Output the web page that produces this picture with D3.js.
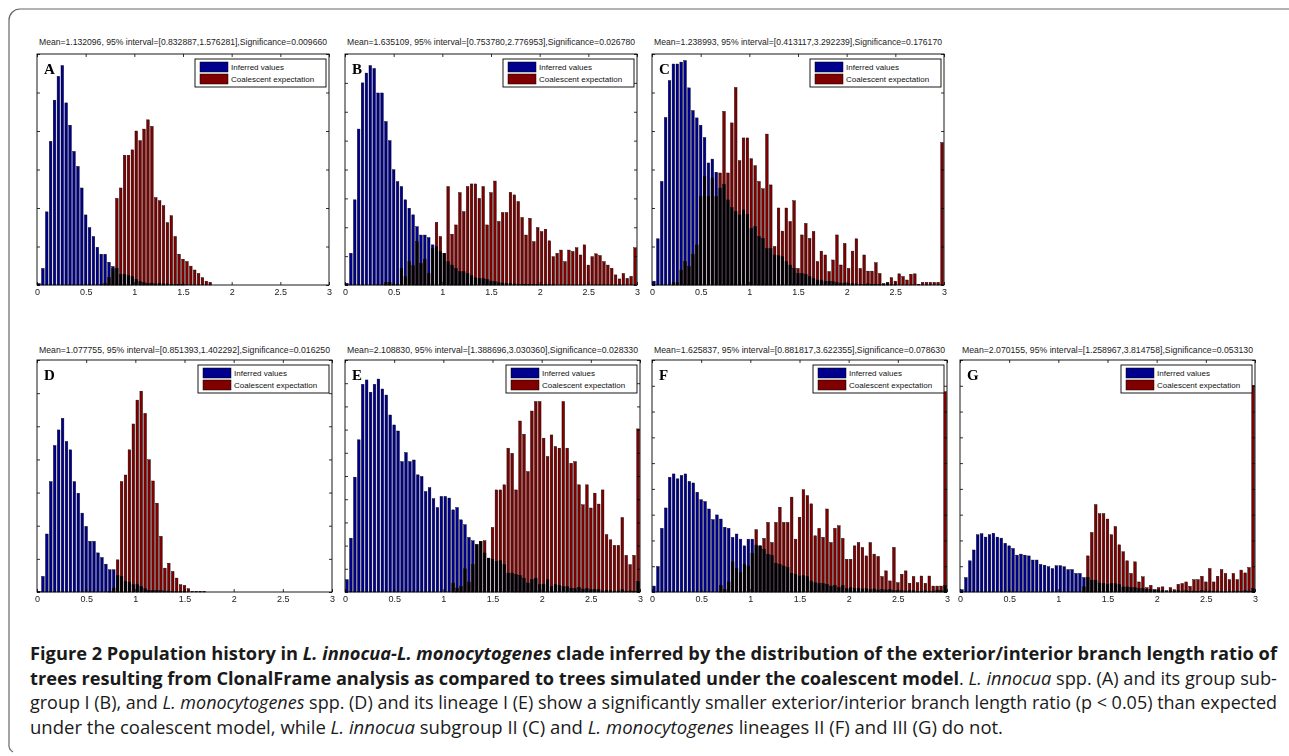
<!DOCTYPE html>
<html>
<head>
<meta charset="utf-8">
<script src="https://cdnjs.cloudflare.com/ajax/libs/d3/7.8.5/d3.min.js"></script>
<style>
  body { margin: 0; background: #fff; }
  svg { display: block; }
</style>
</head>
<body>
<svg id="chart" width="1289" height="756"></svg>
<script>
// Histogram bins: 75 bins of width 0.04 over [0, 3]
const binCount = 75;
const binWidth = 0.04;
const xTicks = [0, 0.5, 1, 1.5, 2, 2.5, 3];

const panelLetters = ['A', 'B', 'C', 'D', 'E', 'F', 'G'];
const panelTitles = [
    'Mean=1.132096, 95% interval=[0.832887,1.576281],Significance=0.009660',
    'Mean=1.635109, 95% interval=[0.753780,2.776953],Significance=0.026780',
    'Mean=1.238993, 95% interval=[0.413117,3.292239],Significance=0.176170',
    'Mean=1.077755, 95% interval=[0.851393,1.402292],Significance=0.016250',
    'Mean=2.108830, 95% interval=[1.388696,3.030360],Significance=0.028330',
    'Mean=1.625837, 95% interval=[0.881817,3.622355],Significance=0.078630',
    'Mean=2.070155, 95% interval=[1.258967,3.814758],Significance=0.053130'
];
// number of y tick intervals in each panel (counts are in tick units)
const yTickIntervals = [6, 8, 6, 7, 10, 9, 9];
const legendLabels = ['Inferred values', 'Coalescent expectation'];

const inferredA = [
    0.04,0.43,1.90,3.73,4.80,5.42,5.70,4.73,4.15,3.47,
    3.08,2.52,1.82,1.49,1.26,0.98,0.80,0.80,0.59,0.48,
    0.43,0.28,0.28,0.24,0.22,0.15,0.09,0.06,0.04,0.05,
    0.03,0.04,0.03,0.03,0.02,0.02,0.02,0.01,0,0,
    0,0,0,0,0,0,0,0,0,0,
    0,0,0,0,0,0,0,0,0,0,
    0,0,0,0,0,0,0,0,0,0,
    0,0,0,0,0];
const coalescentA = [
    0,0,0,0,0,0,0,0,0,0,
    0,0,0,0,0,0,0.02,0.05,0.20,0.42,
    2.25,2.52,3.37,3.37,3.51,4.00,3.75,4.05,4.29,4.12,
    2.27,2.19,2.06,1.62,1.80,1.26,0.80,0.67,0.61,0.49,
    0.39,0.30,0.19,0.10,0.07,0,0,0,0,0,
    0,0,0,0,0,0,0,0,0,0,
    0,0,0,0,0,0,0,0,0,0,
    0,0,0,0,0];

const inferredB = [
    0.06,1.10,2.95,5.40,7.00,7.34,7.60,7.50,6.65,6.65,
    5.66,5.00,3.99,3.58,3.41,2.95,2.66,2.43,2.02,1.73,
    1.73,1.64,1.39,1.33,1.16,1.10,0.81,0.69,0.58,0.46,
    0.46,0.40,0.32,0.25,0.23,0.23,0.20,0.14,0.12,0.08,
    0.07,0.06,0.05,0.04,0.03,0.03,0.02,0.02,0.02,0.02,
    0.01,0.01,0.01,0.01,0,0,0,0,0,0,
    0,0,0,0,0,0,0,0,0,0,
    0,0,0,0,0];
const coalescentB = [
    0,0,0,0,0,0,0,0,0,0,
    0.09,0.09,0.02,0.03,0.58,0.29,0.81,0.67,1.50,0.75,
    0.90,0.40,1.27,2.17,1.68,1.10,3.41,1.76,2.08,3.20,
    2.54,3.41,3.50,3.50,3.00,3.41,2.08,3.20,3.60,2.20,
    2.51,2.51,3.21,3.12,2.89,2.34,1.73,2.31,1.50,1.99,
    1.85,1.93,1.53,0.98,1.10,1.21,0.81,1.21,1.16,1.29,
    1.04,1.39,0.69,0.98,1.08,1.02,0.81,0.69,0.58,0.35,
    0.21,0.40,0.23,0.30,1.29];

const inferredC = [
    0.10,1.20,2.69,4.35,5.31,5.74,5.74,5.79,5.83,5.12,
    4.53,4.34,4.15,3.83,3.17,3.27,2.93,2.52,2.62,2.21,
    2.01,1.91,1.82,1.95,1.84,1.47,1.52,1.26,1.21,0.95,
    0.95,0.78,0.76,0.74,0.61,0.52,0.43,0.30,0.30,0.28,
    0.22,0.17,0.13,0.13,0.10,0.10,0.09,0.06,0.05,0.05,
    0.04,0.04,0.03,0.02,0.02,0.03,0.02,0.02,0.02,0.02,
    0.05,0.01,0.01,0,0,0,0,0,0,0,
    0,0,0,0,0];
const coalescentC = [
    0,0,0,0,0,0.07,0.07,0.39,0.61,0.48,
    0.80,1.04,2.30,2.82,2.30,2.78,2.30,2.91,4.51,2.91,
    4.21,5.13,3.23,3.82,3.82,3.28,3.10,2.69,2.50,3.92,
    2.60,1.00,2.00,1.40,2.00,1.65,2.19,0.43,1.30,1.60,
    1.21,1.39,0.61,0.88,0.78,0.35,0.65,1.30,0.52,1.08,
    0.43,0.88,1.20,0.43,0.78,0.36,0.36,0.58,0.30,0.04,
    0.07,0.19,0.10,0.29,0.22,0.13,0.28,0.29,0.02,0.07,
    0.07,0.07,0.07,0.07,3.70];

const inferredD = [
    0.02,0.47,1.75,3.33,4.42,4.89,5.24,4.54,4.29,3.33,
    2.98,2.38,1.98,1.53,1.53,1.18,1.04,0.84,0.67,0.67,
    0.50,0.47,0.32,0.30,0.22,0.24,0.17,0.10,0.04,0.05,
    0.05,0.04,0.03,0.03,0.02,0.02,0.01,0.01,0,0,
    0,0,0,0,0,0,0,0,0,0,
    0,0,0,0,0,0,0,0,0,0,
    0,0,0,0,0,0,0,0,0,0,
    0,0,0,0,0];
const coalescentD = [
    0,0,0,0,0,0,0,0,0,0,
    0,0,0,0,0,0,0,0,0.02,0.12,
    0.97,3.33,3.53,4.29,5.07,5.79,6.06,5.39,3.99,3.35,
    2.68,1.68,0.72,0.87,0.62,0.42,0.22,0.20,0.10,0.02,
    0.02,0.02,0.02,0,0,0,0,0,0,0,
    0,0,0,0,0,0,0,0,0,0,
    0,0,0,0,0,0,0,0,0,0,
    0,0,0,0,0];

const inferredE = [
    0.53,2.32,4.95,6.56,8.95,9.14,8.61,8.95,9.18,8.75,
    8.49,7.63,7.20,6.94,5.62,6.01,5.62,5.69,5.05,4.98,
    4.33,4.50,4.02,3.64,4.12,4.12,4.05,3.54,3.64,3.11,
    2.90,2.35,2.21,2.04,2.18,1.68,1.46,1.42,1.32,1.35,
    1.18,0.82,0.82,0.75,0.72,0.60,0.39,0.53,0.60,0.32,
    0.34,0.53,0.24,0.34,0.29,0.24,0.24,0.17,0.15,0.20,
    0.13,0.15,0.10,0.12,0.10,0.05,0.08,0.06,0.04,0.05,
    0.10,0.04,0.05,0.04,0.46];
const coalescentE = [
    0,0,0,0,0,0,0,0,0,0,
    0,0,0,0,0,0,0,0,0,0,
    0,0,0,0,0,0,0,0.39,0.17,0.24,
    1.00,0.43,1.18,2.04,2.18,2.21,1.46,2.78,4.40,4.40,
    4.62,6.20,5.98,4.40,7.37,6.80,5.19,7.80,8.21,8.21,
    6.63,5.84,6.77,6.27,6.20,8.21,6.20,5.55,5.62,4.62,
    3.76,4.62,3.62,4.26,3.79,4.40,2.47,2.25,2.01,2.01,
    3.21,1.58,1.18,1.58,7.03];

const inferredF = [
    0.23,0.99,2.47,3.26,4.45,4.58,4.39,4.52,4.58,4.29,
    4.23,3.87,3.58,3.51,3.22,2.81,2.99,2.83,2.51,2.47,
    2.12,2.25,2.05,1.79,2.05,2.05,1.82,1.79,1.66,1.47,
    1.43,1.12,1.08,1.01,0.95,0.73,0.69,0.62,0.65,0.60,
    0.43,0.36,0.34,0.34,0.30,0.23,0.26,0.17,0.26,0.13,
    0.17,0.13,0.15,0.12,0.13,0.10,0.12,0.08,0.10,0.08,
    0.10,0.05,0.06,0.05,0.04,0.06,0.05,0.03,0.04,0.05,
    0.03,0.04,0.08,0.05,0.26];
const coalescentF = [
    0,0,0,0,0,0,0,0,0,0,
    0,0,0,0,0,0,0,0.26,0.10,0.39,
    1.17,0.91,0.75,1.08,1.01,1.51,2.42,1.79,2.08,2.70,
    1.92,2.70,3.29,2.70,2.70,3.68,2.05,2.90,3.97,3.74,
    3.42,2.18,2.47,2.12,3.22,1.92,2.47,2.57,2.08,1.27,
    1.27,1.79,1.92,1.73,1.40,1.92,1.47,1.38,0.60,0.82,
    0.43,1.73,0.36,0.69,0.82,0.34,0.60,0.36,0.62,0.34,
    0.62,0.23,0.23,0.23,7.77];

const inferredG = [
    0.09,0.56,1.21,1.63,2.22,2.26,2.13,2.22,2.28,2.13,
    2.09,1.89,1.79,1.69,1.43,1.47,1.43,1.40,1.24,1.24,
    1.07,1.04,0.98,0.91,1.02,1.02,0.98,0.87,0.87,0.72,
    0.72,0.56,0.56,0.46,0.46,0.35,0.33,0.30,0.33,0.33,
    0.30,0.20,0.20,0.17,0.17,0.13,0.13,0.10,0.10,0.08,
    0.07,0.07,0.05,0.05,0.04,0.06,0.04,0.05,0.03,0.04,
    0.03,0.05,0.03,0.04,0.03,0.04,0.03,0.03,0.04,0.03,
    0.04,0.03,0.05,0.04,0.13];
const coalescentG = [
    0,0,0,0,0,0,0,0,0,0,
    0,0,0,0,0,0,0,0,0,0,
    0,0,0,0,0,0,0,0,0,0,
    0,0.20,1.40,2.31,3.39,3.04,3.04,2.83,2.22,2.54,
    1.83,1.56,1.21,0.72,1.17,0.39,0.59,0.17,0.26,0.09,
    0.17,0.20,0.00,0.17,0.09,0.30,0.33,0.39,0.22,0.48,
    0.48,0.61,0.39,0.91,0.39,0.61,0.87,0.72,0.48,0.72,
    0.48,0.85,0.74,0.95,8.02];

const inferredSeries = [inferredA, inferredB, inferredC, inferredD, inferredE, inferredF, inferredG];
const coalescentSeries = [coalescentA, coalescentB, coalescentC, coalescentD, coalescentE, coalescentF, coalescentG];

// caption text, split in the lines of the figure
const captionLines = [
    [['Figure 2 Population history in ', 'b'], ['L. innocua-L. monocytogenes', 'bi'], [' clade inferred by the distribution of the exterior/interior branch length ratio of', 'b']],
    [['trees resulting from ClonalFrame analysis as compared to trees simulated under the coalescent model', 'b'], ['. ', ''], ['L. innocua', 'i'], [' spp. (A) and its group sub-', '']],
    [['group I (B), and ', ''], ['L. monocytogenes', 'i'], [' spp. (D) and its lineage I (E) show a significantly smaller exterior/interior branch length ratio (p < 0.05) than expected', '']],
    [['under the coalescent model, while ', ''], ['L. innocua', 'i'], [' subgroup II (C) and ', ''], ['L. monocytogenes', 'i'], [' lineages II (F) and III (G) do not.', '']]
];

// Layout of the panels
const colX = [[37, 345, 652], [37, 345, 652, 960]];
const rowLayout = [
    { top: 54, h: 231, w: 292, titleY: 45 },
    { top: 360, h: 232, w: 295, titleY: 353 }
];
const blue = '#00008f';
const red = '#800000';

const svg = d3.select('#chart');

// outer frame of the figure
svg.append('path')
    .attr('d', 'M1289,9 H20 A11,11 0 0 0 9,20 V744 A8,8 0 0 0 13,752')
    .attr('fill', 'none')
    .attr('stroke', '#666')
    .attr('stroke-width', 1.2);

panelLetters.forEach((letter, k) => {
    const row = k < 3 ? 0 : 1;
    const col = k < 3 ? k : k - 3;
    const lay = rowLayout[row];
    const px = colX[row][col];
    const w = lay.w, h = lay.h;
    const yMax = yTickIntervals[k];

    const x = d3.scaleLinear().domain([0, 3]).range([0, w]);
    const y = d3.scaleLinear().domain([0, yMax]).range([h, 0]);
    const barW = (x(binWidth) - x(0)) * 0.68;
    const center = i => x(binWidth * i + binWidth / 2);

    // title above the axes
    svg.append('text')
        .attr('x', px + w / 2)
        .attr('y', lay.titleY)
        .attr('text-anchor', 'middle')
        .attr('textLength', w - 4)
        .attr('lengthAdjust', 'spacingAndGlyphs')
        .style('font-family', 'Liberation Sans, Arial, sans-serif')
        .style('font-size', '8.8px')
        .style('fill', '#222')
        .text(panelTitles[k]);

    const g = svg.append('g')
        .attr('transform', `translate(${px},${lay.top})`)
        .style('isolation', 'isolate');

    // coalescent bars first, inferred bars multiplied on top (overlap turns black)
    g.append('g').selectAll('rect')
        .data(coalescentSeries[k])
        .join('rect')
        .attr('x', (d, i) => center(i) - barW / 2)
        .attr('y', d => y(d))
        .attr('width', barW)
        .attr('height', d => h - y(d))
        .attr('fill', red)
        .attr('stroke', '#000')
        .attr('stroke-width', 0.4);

    g.append('g').selectAll('rect')
        .data(inferredSeries[k])
        .join('rect')
        .attr('x', (d, i) => center(i) - barW / 2)
        .attr('y', d => y(d))
        .attr('width', barW)
        .attr('height', d => h - y(d))
        .attr('fill', blue)
        .attr('stroke', '#000')
        .attr('stroke-width', 0.4)
        .style('mix-blend-mode', 'multiply');

    // axes with inward ticks on all four sides
    const bottom = g.append('g')
        .attr('transform', `translate(0,${h})`)
        .call(d3.axisBottom(x).tickValues(xTicks).tickSize(-3).tickPadding(4).tickFormat(d3.format('')));
    g.append('g')
        .call(d3.axisTop(x).tickValues(xTicks).tickSize(-3).tickFormat(''));
    g.append('g')
        .call(d3.axisLeft(y).ticks(yMax).tickSize(-3).tickFormat(''));
    g.append('g')
        .attr('transform', `translate(${w},0)`)
        .call(d3.axisRight(y).ticks(yMax).tickSize(-3).tickFormat(''));
    g.selectAll('.domain').remove();
    g.selectAll('.tick line').attr('stroke', '#000').attr('stroke-width', 0.8);
    bottom.selectAll('text')
        .style('font-family', 'Liberation Sans, Arial, sans-serif')
        .style('font-size', '9px')
        .style('fill', '#222');

    g.append('rect')
        .attr('width', w)
        .attr('height', h)
        .attr('fill', 'none')
        .attr('stroke', '#000')
        .attr('stroke-width', 0.9);

    // panel letter
    g.append('text')
        .attr('x', 7)
        .attr('y', 20)
        .style('font-family', 'Liberation Serif, Times New Roman, serif')
        .style('font-weight', 'bold')
        .style('font-size', '15px')
        .text(letter);

    // legend
    const lg = g.append('g').attr('transform', `translate(${w - 134},5)`);
    lg.append('rect')
        .attr('width', 131)
        .attr('height', 28)
        .attr('fill', '#fff')
        .attr('stroke', '#000')
        .attr('stroke-width', 0.9);
    [blue, red].forEach((c, j) => {
        lg.append('rect')
            .attr('x', 5)
            .attr('y', 3 + j * 12)
            .attr('width', 28)
            .attr('height', 10)
            .attr('fill', c)
            .attr('stroke', '#000')
            .attr('stroke-width', 0.5);
        lg.append('text')
            .attr('x', 36)
            .attr('y', 11 + j * 12)
            .style('font-family', 'Liberation Sans, Arial, sans-serif')
            .style('font-size', '8px')
            .style('fill', '#111')
            .text(legendLabels[j]);
    });
});

// caption
const lineEnds = [1277, 1277, 1277, 1003];
captionLines.forEach((parts, li) => {
    const t = svg.append('text')
        .attr('x', 30)
        .attr('y', 660 + li * 24.7)
        .attr('textLength', lineEnds[li] - 30)
        .attr('lengthAdjust', 'spacingAndGlyphs')
        .style('font-family', 'Open Sans, Noto Sans, sans-serif')
        .style('font-size', '17.5px')
        .style('fill', '#1a1a1a');
    parts.forEach(([txt, st]) => {
        t.append('tspan')
            .style('font-weight', st.includes('b') ? 'bold' : 'normal')
            .style('font-style', st.includes('i') ? 'italic' : 'normal')
            .text(txt);
    });
});
</script>
</body>
</html>
